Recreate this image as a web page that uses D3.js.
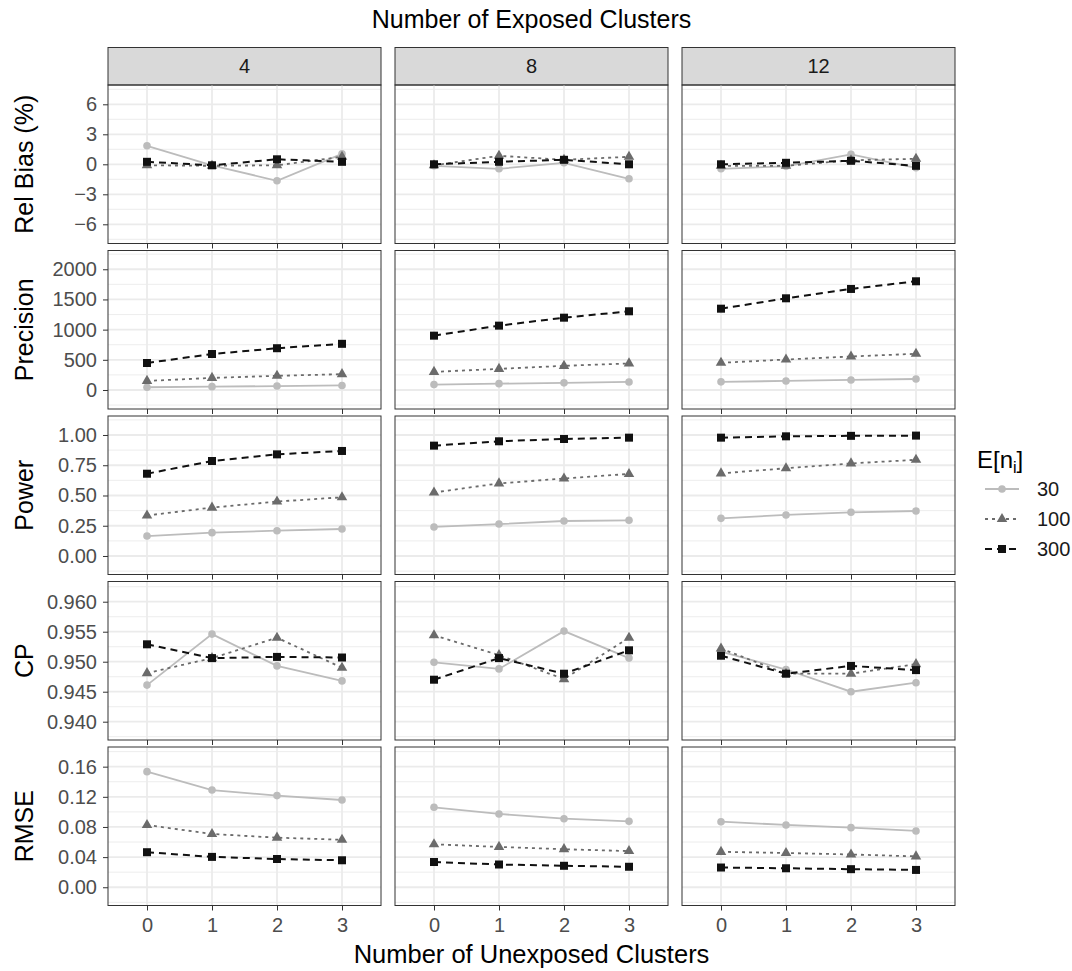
<!DOCTYPE html>
<html>
<head>
<meta charset="utf-8">
<script src="https://cdn.jsdelivr.net/npm/d3@7"></script>
<style>
  body { margin: 0; background: #fff; }
  text { font-family: "Liberation Sans", Arial, sans-serif; }
</style>
</head>
<body>
<div id="chart"></div>
<script>
// categories
const unexposed = [0, 1, 2, 3];
const exposed = ["4", "8", "12"];
const sizes = ["30", "100", "300"];
const metrics = ["Rel Bias (%)", "Precision", "Power", "CP", "RMSE"];

// values: one row per exposed count (4, 8, 12), one value per unexposed count
const relBias30  = [[1.85, -0.1, -1.65, 1.05], [-0.15, -0.45, 0.15, -1.45], [-0.45, -0.2, 1.0, -0.35]];
const relBias100 = [[-0.1, -0.15, -0.1, 0.75], [-0.1, 0.85, 0.45, 0.75], [-0.15, -0.15, 0.4, 0.55]];
const relBias300 = [[0.25, -0.1, 0.5, 0.25], [0.0, 0.25, 0.45, 0.0], [0.0, 0.15, 0.35, -0.15]];

const precision30  = [[45, 55, 65, 75], [90, 105, 118, 133], [135, 150, 166, 182]];
const precision100 = [[150, 200, 235, 262], [300, 350, 400, 440], [450, 505, 555, 600]];
const precision300 = [[447, 596, 692, 765], [900, 1066, 1198, 1304], [1347, 1519, 1674, 1801]];

const power30  = [[0.165, 0.193, 0.209, 0.223], [0.24, 0.264, 0.289, 0.295], [0.311, 0.339, 0.361, 0.372]];
const power100 = [[0.335, 0.40, 0.45, 0.485], [0.525, 0.60, 0.64, 0.678], [0.683, 0.725, 0.765, 0.795]];
const power300 = [[0.68, 0.785, 0.84, 0.868], [0.912, 0.948, 0.967, 0.978], [0.978, 0.989, 0.993, 0.995]];

const cp30  = [[0.9461, 0.9546, 0.9493, 0.9468], [0.9499, 0.9488, 0.9551, 0.9506], [0.9517, 0.9487, 0.9450, 0.9465]];
const cp100 = [[0.9481, 0.9506, 0.9540, 0.9490], [0.9544, 0.9511, 0.9471, 0.9540], [0.9522, 0.9480, 0.9480, 0.9496]];
const cp300 = [[0.9529, 0.9506, 0.9508, 0.9507], [0.9470, 0.9506, 0.9480, 0.9519], [0.9510, 0.9480, 0.9493, 0.9486]];

const rmse30  = [[0.1534, 0.129, 0.1216, 0.1158], [0.1061, 0.0973, 0.091, 0.0875], [0.087, 0.0827, 0.0791, 0.0747]];
const rmse100 = [[0.0826, 0.0707, 0.0658, 0.0630], [0.0570, 0.0535, 0.0505, 0.0480], [0.0470, 0.0455, 0.0435, 0.0410]];
const rmse300 = [[0.0465, 0.0403, 0.0375, 0.0358], [0.0335, 0.0302, 0.0285, 0.0272], [0.0262, 0.0252, 0.0240, 0.0230]];

// tick labels
const relBiasTicks = [-6, -3, 0, 3, 6];
const precisionTicks = [0, 500, 1000, 1500, 2000];
const powerTicks = [0, 0.25, 0.5, 0.75, 1];
const cpTicks = [0.94, 0.945, 0.95, 0.955, 0.96];
const rmseTicks = [0, 0.04, 0.08, 0.12, 0.16];

const seriesByMetric = [
  [relBias30, relBias100, relBias300],
  [precision30, precision100, precision300],
  [power30, power100, power300],
  [cp30, cp100, cp300],
  [rmse30, rmse100, rmse300]
];
const ticksByMetric = [relBiasTicks, precisionTicks, powerTicks, cpTicks, rmseTicks];
const formats = [d3.format("d"), d3.format("d"), d3.format(".2f"), d3.format(".3f"), d3.format(".2f")];
const yDomains = [[-7.92, 7.93], [-315, 2311], [-0.153, 1.157], [0.93695, 0.96337], [-0.0242, 0.1861]];

const width = 1072, height = 971;
const colX = [108, 395, 682], panelW = 273;
const rowY = [85, 250.5, 416, 581.5, 747], panelH = 158.5;

const styles = {
  "30":  {color: "#bcbcbc", dash: null,  width: 1.8, shape: "circle"},
  "100": {color: "#6b6b6b", dash: "3,4", width: 1.8, shape: "triangle"},
  "300": {color: "#111111", dash: "7,5", width: 2,   shape: "square"}
};

const svg = d3.select("#chart").append("svg")
    .attr("width", width)
    .attr("height", height);

const x = d3.scaleLinear().domain([-0.6, 3.6]).range([0, panelW]);

function drawPoint(g, shape, color, px, py) {
  if (shape === "circle") {
    g.append("circle").attr("cx", px).attr("cy", py).attr("r", 3.8).attr("fill", color);
  } else if (shape === "square") {
    g.append("rect").attr("x", px - 4).attr("y", py - 4).attr("width", 8).attr("height", 8).attr("fill", color);
  } else {
    g.append("path").attr("transform", `translate(${px},${py})`)
      .attr("d", d3.symbol(d3.symbolTriangle, 48)()).attr("fill", color);
  }
}

// strips
exposed.forEach((lab, c) => {
  svg.append("rect")
      .attr("x", colX[c]).attr("y", 47.5)
      .attr("width", panelW).attr("height", rowY[0] - 47.5)
      .attr("fill", "#d9d9d9").attr("stroke", "#333").attr("stroke-width", 1);
  svg.append("text")
      .attr("x", colX[c] + panelW / 2).attr("y", 73)
      .attr("text-anchor", "middle").attr("font-size", 20).attr("fill", "#1a1a1a")
      .text(lab);
});

metrics.forEach((metric, r) => {
  const y = d3.scaleLinear().domain(yDomains[r]).range([panelH, 0]);
  const ticks = ticksByMetric[r];
  const step = ticks[1] - ticks[0];
  const minor = [];
  for (let i = -1; i < ticks.length; i++) {
    const v = ticks[0] + step * (i + 0.5);
    if (v > yDomains[r][0] && v < yDomains[r][1]) minor.push(v);
  }

  exposed.forEach((lab, c) => {
    const g = svg.append("g").attr("transform", `translate(${colX[c]},${rowY[r]})`);

    g.selectAll(".minor").data(minor).join("line")
        .attr("x1", 0).attr("x2", panelW)
        .attr("y1", d => y(d)).attr("y2", d => y(d))
        .attr("stroke", "#ebebeb").attr("stroke-width", 0.9);
    g.selectAll(".majory").data(ticks).join("line")
        .attr("x1", 0).attr("x2", panelW)
        .attr("y1", d => y(d)).attr("y2", d => y(d))
        .attr("stroke", "#ebebeb").attr("stroke-width", 1.8);
    g.selectAll(".majorx").data(unexposed).join("line")
        .attr("x1", d => x(d)).attr("x2", d => x(d))
        .attr("y1", 0).attr("y2", panelH)
        .attr("stroke", "#ebebeb").attr("stroke-width", 1.8);

    const line = d3.line().x((d, i) => x(unexposed[i])).y(d => y(d));
    sizes.forEach((s, k) => {
      const st = styles[s];
      g.append("path")
          .attr("d", line(seriesByMetric[r][k][c]))
          .attr("fill", "none")
          .attr("stroke", st.color)
          .attr("stroke-width", st.width)
          .attr("stroke-dasharray", st.dash);
    });
    sizes.forEach((s, k) => {
      const st = styles[s];
      seriesByMetric[r][k][c].forEach((v, i) => drawPoint(g, st.shape, st.color, x(unexposed[i]), y(v)));
    });

    g.append("rect")
        .attr("width", panelW).attr("height", panelH)
        .attr("fill", "none").attr("stroke", "#333").attr("stroke-width", 1);

    // x ticks under every panel
    const xa = g.append("g")
        .attr("transform", `translate(0,${panelH})`)
        .call(d3.axisBottom(x).tickValues(unexposed).tickSize(5).tickFormat(r === metrics.length - 1 ? d3.format("d") : ""));
    xa.select(".domain").remove();
    xa.selectAll(".tick line").attr("stroke", "#333").attr("stroke-width", 1);
    xa.selectAll(".tick text").attr("font-size", 20).attr("fill", "#4d4d4d")
        .attr("font-family", "Liberation Sans, Arial, sans-serif").attr("dy", "0.9em");

    if (c === 0) {
      const ya = g.append("g")
          .call(d3.axisLeft(y).tickValues(ticks).tickSize(5).tickPadding(6).tickFormat(formats[r]));
      ya.select(".domain").remove();
      ya.selectAll(".tick line").attr("stroke", "#333").attr("stroke-width", 1);
      ya.selectAll(".tick text").attr("font-size", 20).attr("fill", "#4d4d4d")
          .attr("font-family", "Liberation Sans, Arial, sans-serif");
    }
  });

  svg.append("text")
      .attr("transform", `translate(33,${rowY[r] + panelH / 2}) rotate(-90)`)
      .attr("text-anchor", "middle").attr("font-size", 25).attr("fill", "#000")
      .text(metric);
});

const centerX = (colX[0] + colX[2] + panelW) / 2;
svg.append("text")
    .attr("x", centerX).attr("y", 28)
    .attr("text-anchor", "middle").attr("font-size", 25).attr("fill", "#000")
    .text("Number of Exposed Clusters");
svg.append("text")
    .attr("x", centerX).attr("y", 963)
    .attr("text-anchor", "middle").attr("font-size", 25.5).attr("fill", "#000")
    .text("Number of Unexposed Clusters");

// legend
const lt = svg.append("text")
    .attr("x", 977).attr("y", 468)
    .attr("font-size", 24).attr("fill", "#000");
lt.append("tspan").text("E[n");
lt.append("tspan").attr("font-size", 16).attr("dy", 5).text("i");
lt.append("tspan").attr("dy", -5).text("]");

sizes.forEach((s, k) => {
  const st = styles[s];
  const cy = 489 + k * 30;
  const lg = svg.append("g");
  lg.append("line")
      .attr("x1", 985).attr("x2", 1019).attr("y1", cy).attr("y2", cy)
      .attr("stroke", st.color).attr("stroke-width", st.width)
      .attr("stroke-dasharray", st.dash);
  drawPoint(lg, st.shape, st.color, 1002, cy);
  lg.append("text")
      .attr("x", 1037).attr("y", cy + 7)
      .attr("font-size", 20).attr("fill", "#1a1a1a")
      .text(s);
});
</script>
</body>
</html>
